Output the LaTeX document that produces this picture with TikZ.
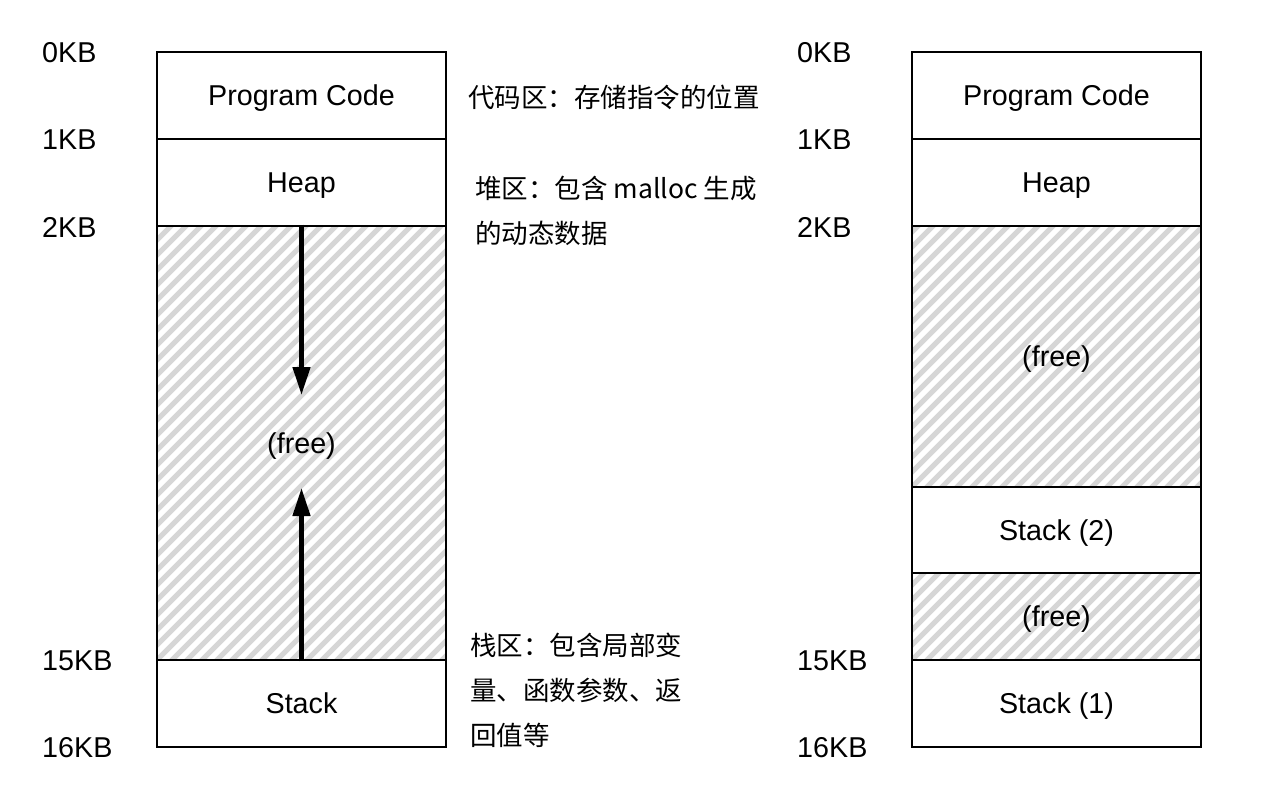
\documentclass[tikz,border=0pt]{standalone}
\usepackage{fontspec}
\setmainfont{Liberation Sans}
\newfontfamily\cjk{Noto Sans CJK SC}
\usetikzlibrary{arrows.meta}
\definecolor{hatchgray}{HTML}{D6D6D6}
\newcommand{\myhatch}[4]{%
  \begin{scope}
    \clip (#1,#2) rectangle (#3,#4);
    \foreach \k in {0,...,55} {
      \draw[hatchgray, line width=5pt] (#1-460+\k*15,#4+10) -- ++(480,-480);
    }
  \end{scope}}
\begin{document}
\begin{tikzpicture}[x=1pt,y=-1pt,
  cell/.style={draw, line width=2.8pt, minimum width=289pt, inner sep=0pt,
    text height=20.6pt, text depth=0pt,
    font=\fontsize{28.7}{33}\selectfont},
  lbl/.style={anchor=west, inner sep=0pt, font=\fontsize{28.7}{33}\selectfont},
  note/.style={anchor=north west, inner sep=0pt, align=left,
    font=\cjk\fontsize{26.5}{45}\selectfont},
  arr/.style={line width=4.5pt, -{Triangle[width=17pt,length=28pt]}}]
\useasboundingbox (0,0) rectangle (1268,790);
\fill[white] (0,0) rectangle (1268,790);
% hatches
\myhatch{157}{226}{446}{660}
\myhatch{912}{226}{1201}{487}
\myhatch{912}{573}{1201}{660}
% left column
\node[cell, minimum height=87pt] (code) at (301.5,95.5) {Program Code};
\node[cell, minimum height=87pt] (heap) at (301.5,182.5) {Heap};
\node[cell, minimum height=434pt] (free) at (301.5,443) {(free)};
\node[cell, minimum height=87pt] (stack) at (301.5,703.5) {Stack};
\coordinate (dtip) at (301.5,395);
\coordinate (utip) at (301.5,488);
\draw[arr] (free.north) -- (dtip);
\draw[arr] (free.south) -- (utip);
% left labels
\node[lbl] (a0) at (42,53) {0KB};
\node[lbl] (a1) at (42,140) {1KB};
\node[lbl] (a2) at (42,227) {2KB};
\node[lbl] (a15) at (42,661) {15KB};
\node[lbl] (a16) at (42,748) {16KB};
% notes
\node[note] (n1) at (468,85) {代码区：存储指令的位置};
\node[note] (n2) at (475,176) {堆区：包含 malloc 生成\\的动态数据};
\node[note] (n3) at (470,633) {栈区：包含局部变\\量、函数参数、返\\回值等};
% right column
\node[cell, minimum height=87pt] (rcode) at (1056.5,95.5) {Program Code};
\node[cell, minimum height=87pt] (rheap) at (1056.5,182.5) {Heap};
\node[cell, minimum height=261pt] (rfree) at (1056.5,356.5) {(free)};
\node[cell, minimum height=86pt] (rstack2) at (1056.5,530) {Stack (2)};
\node[cell, minimum height=87pt] (rfree2) at (1056.5,616.5) {(free)};
\node[cell, minimum height=87pt] (rstack1) at (1056.5,703.5) {Stack (1)};
% right labels
\node[lbl] (b0) at (797,53) {0KB};
\node[lbl] (b1) at (797,140) {1KB};
\node[lbl] (b2) at (797,227) {2KB};
\node[lbl] (b15) at (797,661) {15KB};
\node[lbl] (b16) at (797,748) {16KB};
\end{tikzpicture}
\end{document}
